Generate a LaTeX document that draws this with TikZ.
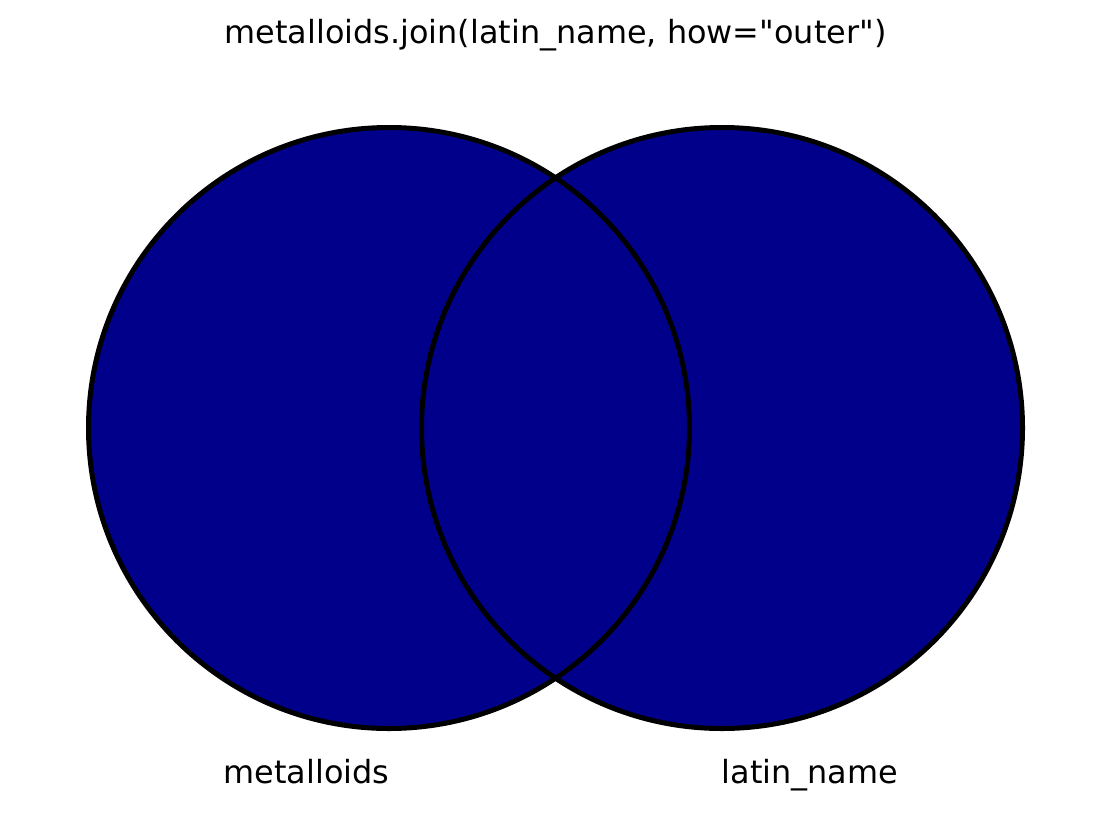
\documentclass[tikz,border=0pt]{standalone}
\usepackage{fontspec}
\setmainfont{DejaVu Sans}[Ligatures=TeXOff]
\definecolor{setfill}{RGB}{0,0,139}
\begin{document}
\begin{tikzpicture}[x=1pt,y=-1pt,
  setcircle/.style={circle,minimum size=601pt,inner sep=0pt,fill=setfill},
  setoutline/.style={circle,minimum size=601pt,inner sep=0pt,draw=black,line width=5pt},
  label/.style={font=\fontsize{31.9}{38}\selectfont,anchor=base,inner sep=0pt}]
\useasboundingbox (0,0) rectangle (1110,817);
% filled sets
\node[setcircle] (left) at (389,428) {};
\node[setcircle] (right) at (722,428) {};
% outlines on top
\node[setoutline] (leftedge) at (389,428) {};
\node[setoutline] (rightedge) at (722,428) {};
% captions
\node[label] (title) at (555.5,43) {metalloids.join(latin\_name, how="outer")};
\node[label] (leftname) at (306.5,783) {metalloids};
\node[label] (rightname) at (810,783) {latin\_name};
\end{tikzpicture}
\end{document}
